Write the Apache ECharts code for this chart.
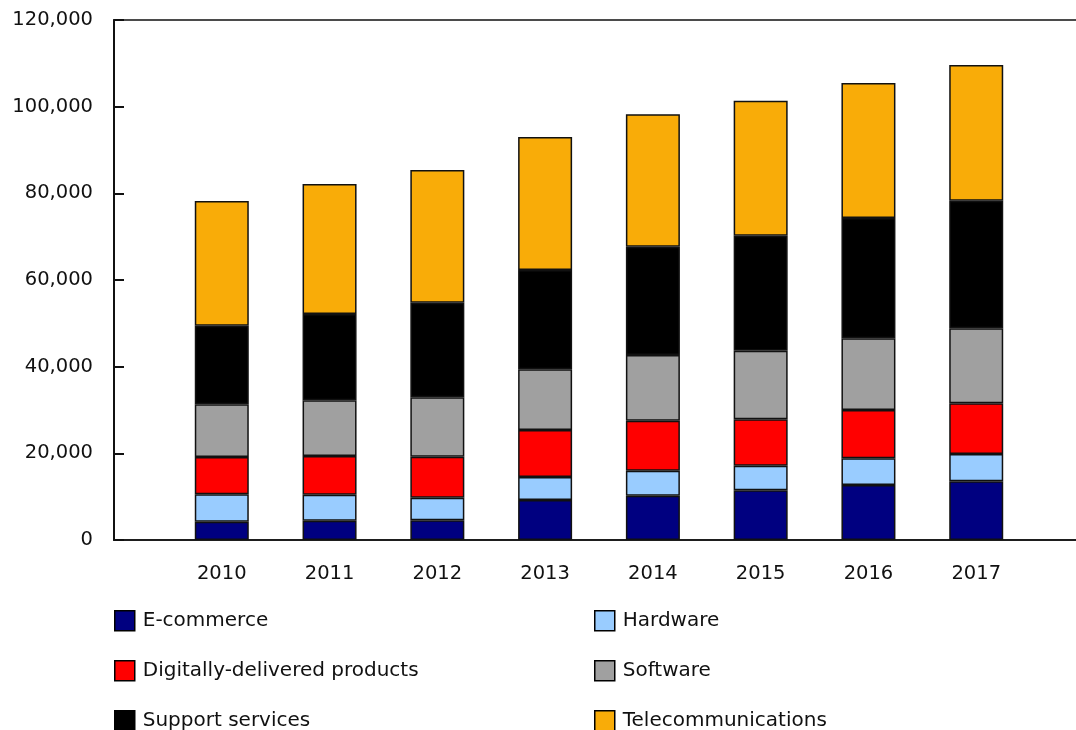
<!DOCTYPE html>
<html>
<head>
<meta charset="utf-8">
<title>Digital economy components, 2010 to 2017</title>
<script src="https://cdn.jsdelivr.net/npm/echarts@6/dist/echarts.min.js"></script>
<style>
  html, body { margin: 0; padding: 0; background: #ffffff; overflow: hidden; }
  /* The frame runs past the right edge of the window, so the canvas is a bit wider */
  #chart { width: 1100px; height: 730px; }
</style>
</head>
<body>
<div id="chart"></div>
<script>
// Years on the horizontal axis
const years = ['2010', '2011', '2012', '2013', '2014', '2015', '2016', '2017'];

// Stacked components, bottom to top
const ecommerce = [4230, 4460, 4540, 9230, 10230, 11460, 12690, 13540];
const hardware = [6310, 6000, 5230, 5310, 5770, 5690, 6160, 6310];
const digitallyDelivered = [8610, 8920, 9460, 10840, 11540, 10700, 11150, 11690];
const software = [12160, 12850, 13700, 14010, 15150, 15840, 16540, 17310];
const supportServices = [18140, 19920, 21840, 22920, 25000, 26540, 27770, 29460];
const telecommunications = [28780, 30000, 30610, 30690, 30540, 31150, 31150, 31310];

// Vertical axis ticks
const yTicks = [0, 20000, 40000, 60000, 80000, 100000, 120000];

const FONT = 'DejaVu Sans, Verdana, sans-serif';
const TEXT = '#111111';

// Blank slots on both ends keep the years away from the frame edges
const categories = [''].concat(years, ['']);
const pad = arr => [null].concat(arr, [null]);

const seriesDefs = [
  { name: 'E-commerce', data: ecommerce, color: '#000080' },
  { name: 'Hardware', data: hardware, color: '#99ccff' },
  { name: 'Digitally-delivered products', data: digitallyDelivered, color: '#ff0000' },
  { name: 'Software', data: software, color: '#a0a0a0' },
  { name: 'Support services', data: supportServices, color: '#000000' },
  { name: 'Telecommunications', data: telecommunications, color: '#f9ac08' }
];

// Legend laid out as two columns of three rows
const legendSlots = [
  { name: 'E-commerce', left: 114, top: 610 },
  { name: 'Hardware', left: 594, top: 610 },
  { name: 'Digitally-delivered products', left: 114, top: 660 },
  { name: 'Software', left: 594, top: 660 },
  { name: 'Support services', left: 114, top: 710 },
  { name: 'Telecommunications', left: 594, top: 710 }
];

const legends = legendSlots.map(slot => ({
  data: [slot.name],
  left: slot.left,
  top: slot.top,
  padding: 0,
  itemWidth: 20,
  itemHeight: 20,
  icon: 'rect',
  selectedMode: false,
  textStyle: { fontFamily: FONT, fontSize: 20, color: TEXT, padding: [0, 0, 0, 3] },
  itemStyle: { borderColor: '#000', borderWidth: 1.5 }
}));

const option = {
  animation: false,
  backgroundColor: '#ffffff',
  grid: {
    left: 114,
    top: 20,
    width: 970,
    height: 520,
    show: true,
    borderColor: '#111',
    borderWidth: 1.5,
    backgroundColor: 'transparent'
  },
  legend: legends,
  xAxis: {
    type: 'category',
    data: categories,
    boundaryGap: false,
    axisLine: { show: true, lineStyle: { color: '#111', width: 1.5 } },
    axisTick: { show: false },
    axisLabel: { fontFamily: FONT, fontSize: 19.5, color: TEXT, margin: 24 },
    splitLine: { show: false }
  },
  yAxis: {
    type: 'value',
    min: yTicks[0],
    max: yTicks[yTicks.length - 1],
    interval: yTicks[1] - yTicks[0],
    axisLine: { show: true, lineStyle: { color: '#111', width: 2 } },
    axisTick: { show: true, inside: true, length: 10, lineStyle: { color: '#111', width: 2 } },
    axisLabel: {
      fontFamily: FONT,
      fontSize: 19.5,
      color: TEXT,
      margin: 21,
      formatter: v => v.toLocaleString('en-US')
    },
    splitLine: { show: false }
  },
  series: seriesDefs.map(s => ({
    name: s.name,
    type: 'bar',
    stack: 'total',
    barWidth: 54,
    data: pad(s.data),
    itemStyle: { color: s.color, borderColor: '#111', borderWidth: 1.5 }
  }))
};

const chart = echarts.init(document.getElementById('chart'), null, { renderer: 'canvas' });
chart.setOption(option);
</script>
</body>
</html>
